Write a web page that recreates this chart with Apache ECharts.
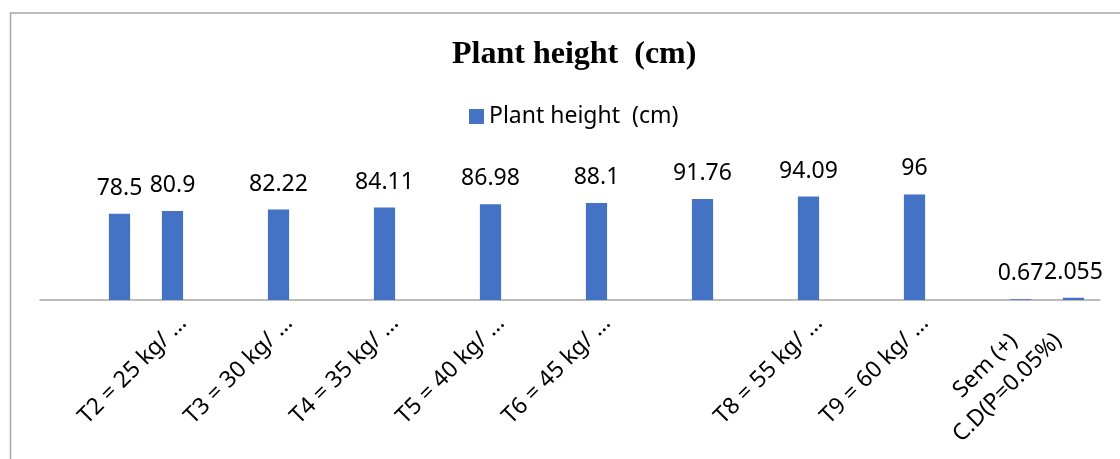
<!DOCTYPE html>
<html>
<head>
<meta charset="utf-8">
<script src="https://cdn.jsdelivr.net/npm/echarts@6/dist/echarts.min.js"></script>
<style>html,body{margin:0;padding:0;background:#fff}#c{width:1120px;height:459px}</style>
</head>
<body>
<div id="c"></div>
<script>
const titleText = 'Plant height  (cm)';
const seriesName = 'Plant height  (cm)';
const categories = ['', '', 'T2 = 25 kg/ …', '', 'T3 = 30 kg/ …', '', 'T4 = 35 kg/ …', '', 'T5 = 40 kg/ …', '', 'T6 = 45 kg/ …', '', '', '', 'T8 = 55 kg/ …', '', 'T9 = 60 kg/ …', '', 'Sem (+)\nC.D(P=0.05%)', ''];
const values = [null, 78.5, 80.9, null, 82.22, null, 84.11, null, 86.98, null, 88.1, null, 91.76, null, 94.09, null, 96, null, 0.67, 2.055];

const chart = echarts.init(document.getElementById('c'), null, {renderer: 'canvas'});
const FONT = 'Noto Sans';
chart.setOption({
  animation: false,
  backgroundColor: '#fff',
  title: {
    text: titleText,
    left: 447, top: 34,
    textStyle: {fontFamily: 'Liberation Serif', fontWeight: 'bold', fontSize: 32, color: '#000'}
  },
  legend: {
    data: [seriesName],
    left: 464, top: 100,
    icon: 'rect', itemWidth: 15, itemHeight: 15, itemGap: 6,
    textStyle: {fontFamily: FONT, fontSize: 23, color: '#000'}
  },
  grid: {left: 40, right: 20, top: 168, bottom: 159, containLabel: false},
  xAxis: {
    type: 'category',
    data: categories,
    boundaryGap: true,
    axisTick: {show: false},
    axisLine: {lineStyle: {color: '#a6a6a6', width: 1.5}},
    axisLabel: {
      interval: 1,
      rotate: 45,
      margin: 9,
      verticalAlign: 'top',
      fontFamily: FONT, fontSize: 23, color: '#000', lineHeight: 30,
      formatter: function (v) {
        if (v.indexOf('\n') >= 0) {
          return v.split('\n').map(s => '{c|' + s + '}').join('\n');
        }
        return v;
      },
      rich: {c: {width: 130, align: 'center', fontFamily: FONT, fontSize: 23, lineHeight: 31, color: '#000'}}
    }
  },
  yAxis: {type: 'value', min: 0, max: 120, show: false, splitLine: {show: false}},
  series: [{
    name: seriesName,
    type: 'bar',
    data: values,
    barWidth: '40%',
    itemStyle: {color: '#4472C4'},
    label: {
      show: true, position: 'top', distance: 14,
      fontFamily: FONT, fontSize: 23, color: '#000',
      formatter: p => (p.value == null ? '' : String(p.value))
    }
  }],
  graphic: [{
    type: 'rect', silent: true,
    shape: {x: 10.5, y: 13, width: 1200, height: 600},
    style: {fill: 'none', stroke: '#a6a6a6', lineWidth: 1.5}
  }]
});
</script>
</body>
</html>
